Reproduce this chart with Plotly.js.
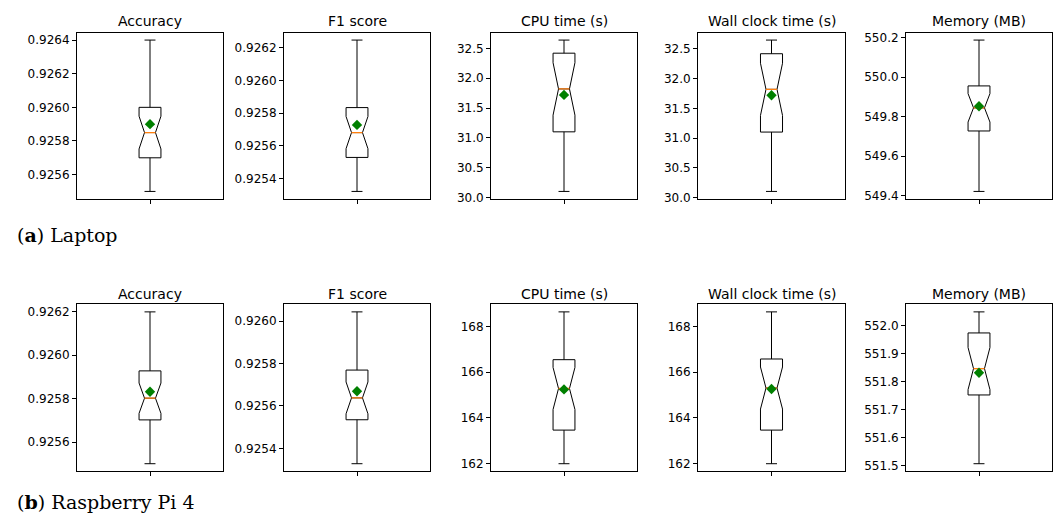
<!DOCTYPE html>
<html>
<head>
<meta charset="utf-8">
<script src="https://cdn.plot.ly/plotly-3.0.1.min.js"></script>
<style>html,body{margin:0;padding:0;background:#fff;}#chart{width:1057px;height:518px;}</style>
</head>
<body>
<div id="chart"></div>
<script>
// ---- data ----
const metrics = ['Accuracy', 'F1 score', 'CPU time (s)', 'Wall clock time (s)', 'Memory (MB)'];
const captions = ['<b>a</b>', '<b>b</b>'];
const devices = ['Laptop', 'Raspberry Pi 4'];

// Laptop
const lapLow   = [0.9255,   0.925321, 30.10, 30.10, 549.422];
const lapQ1    = [0.9257,   0.925529, 31.10, 31.10, 549.728];
const lapMed   = [0.92585,  0.925681, 31.82, 31.82, 549.845];
const lapMean  = [0.92590,  0.925728, 31.72, 31.72, 549.853];
const lapQ3    = [0.9260,   0.925834, 32.42, 32.42, 549.956];
const lapHigh  = [0.9264,   0.926247, 32.64, 32.65, 550.188];
const lapNotch = [0.0000975, 0.0000985, 0.44, 0.44, 0.072];

// Raspberry Pi 4
const piLow   = [0.9255,   0.925328, 161.99, 161.99, 551.507];
const piQ1    = [0.925702, 0.925535, 163.46, 163.46, 551.752];
const piMed   = [0.925802, 0.925638, 165.28, 165.30, 551.846];
const piMean  = [0.925832, 0.925669, 165.24, 165.26, 551.831];
const piQ3    = [0.925928, 0.925769, 166.54, 166.57, 551.973];
const piHigh  = [0.9262,   0.926043, 168.63, 168.63, 552.048];
const piNotch = [0.00007,  0.000075, 0.92,   0.92,   0.075];

// tick steps / formats
const lapTickStep = [0.0002, 0.0002, 0.5, 0.5, 0.2];
const lapTickFmt  = ['.4f', '.4f', '.1f', '.1f', '.1f'];
const piTickStep  = [0.0002, 0.0002, 2, 2, 0.1];
const piTickFmt   = ['.4f', '.4f', 'd', 'd', '.1f'];

// ---- layout geometry (pixels) ----
const W = 1057, H = 518;
const colPx = [[77, 223], [284, 430], [491, 637], [698, 845], [906, 1052]];
const rowPx = [[32.5, 199], [304.3, 471.3]];
const titleY = [21.5, 293.5];
const captionY = [235, 502];

const rows = [
  {low: lapLow, q1: lapQ1, med: lapMed, mean: lapMean, q3: lapQ3, high: lapHigh, notch: lapNotch, step: lapTickStep, fmt: lapTickFmt},
  {low: piLow, q1: piQ1, med: piMed, mean: piMean, q3: piQ3, high: piHigh, notch: piNotch, step: piTickStep, fmt: piTickFmt}
];

const BOXW = 0.15;
const NOTCHW = 0.25;
const font = {family: 'DejaVu Sans', size: 12, color: '#000'};
const traces = [];
const layout = {
  width: W, height: H,
  margin: {l: 0, r: 0, t: 0, b: 0},
  paper_bgcolor: '#fff', plot_bgcolor: '#fff',
  showlegend: false,
  font: font,
  annotations: [],
  hovermode: false
};

let k = 0;
rows.forEach((R, r) => {
  metrics.forEach((m, c) => {
    k++;
    const xa = 'x' + (k === 1 ? '' : k), ya = 'y' + (k === 1 ? '' : k);
    const xkey = 'xaxis' + (k === 1 ? '' : k), ykey = 'yaxis' + (k === 1 ? '' : k);
    traces.push({
      type: 'box', xaxis: xa, yaxis: ya,
      x: [1], q1: [R.q1[c]], median: [R.med[c]], q3: [R.q3[c]],
      lowerfence: [R.low[c]], upperfence: [R.high[c]],
      notchspan: [R.notch[c]], notched: true, notchwidth: NOTCHW,
      whiskerwidth: 0.5, width: BOXW,
      line: {color: '#000', width: 1}, fillcolor: 'rgba(0,0,0,0)',
      boxpoints: false
    });
    const hw = BOXW / 2 * (1 - 2 * NOTCHW);
    traces.push({
      type: 'scatter', mode: 'lines', xaxis: xa, yaxis: ya,
      x: [1 - hw, 1 + hw], y: [R.med[c], R.med[c]],
      line: {color: '#ff7f0e', width: 1.3}
    });
    traces.push({
      type: 'scatter', mode: 'markers', xaxis: xa, yaxis: ya,
      x: [1], y: [R.mean[c]],
      marker: {symbol: 'diamond', color: '#008000', size: 8, line: {width: 0}}
    });
    const lo = R.low[c], hi = R.high[c], pad = 0.05 * (hi - lo);
    layout[xkey] = {
      domain: [colPx[c][0] / W, colPx[c][1] / W], anchor: ya,
      range: [0.5, 1.5], tickvals: [1], ticktext: [''],
      ticks: 'outside', ticklen: 4, tickcolor: '#000', tickwidth: 1,
      showline: true, mirror: true, linecolor: '#000', linewidth: 1,
      showgrid: false, zeroline: false, fixedrange: true
    };
    layout[ykey] = {
      domain: [1 - rowPx[r][1] / H, 1 - rowPx[r][0] / H], anchor: xa,
      range: [lo - pad, hi + pad],
      tick0: 0, dtick: R.step[c], tickformat: R.fmt[c],
      ticks: 'outside', ticklen: 4, tickcolor: '#000', tickwidth: 1,
      showline: true, mirror: true, linecolor: '#000', linewidth: 1,
      showgrid: false, zeroline: false, fixedrange: true,
      tickfont: {family: 'DejaVu Sans', size: 12, color: '#000'}
    };
    layout.annotations.push({
      text: m, xref: 'paper', yref: 'paper',
      x: (colPx[c][0] + colPx[c][1]) / 2 / W, y: 1 - titleY[r] / H,
      xanchor: 'center', yanchor: 'middle', showarrow: false,
      font: {family: 'DejaVu Sans', size: 14, color: '#000'}
    });
  });
  layout.annotations.push({
    text: '(' + captions[r] + ') ' + devices[r], xref: 'paper', yref: 'paper',
    x: 15 / W, y: 1 - captionY[r] / H, xanchor: 'left', yanchor: 'middle',
    showarrow: false,
    font: {family: 'DejaVu Serif', size: 19, color: '#000'}
  });
});

Plotly.newPlot('chart', traces, layout, {staticPlot: true, displayModeBar: false});
</script>
</body>
</html>
